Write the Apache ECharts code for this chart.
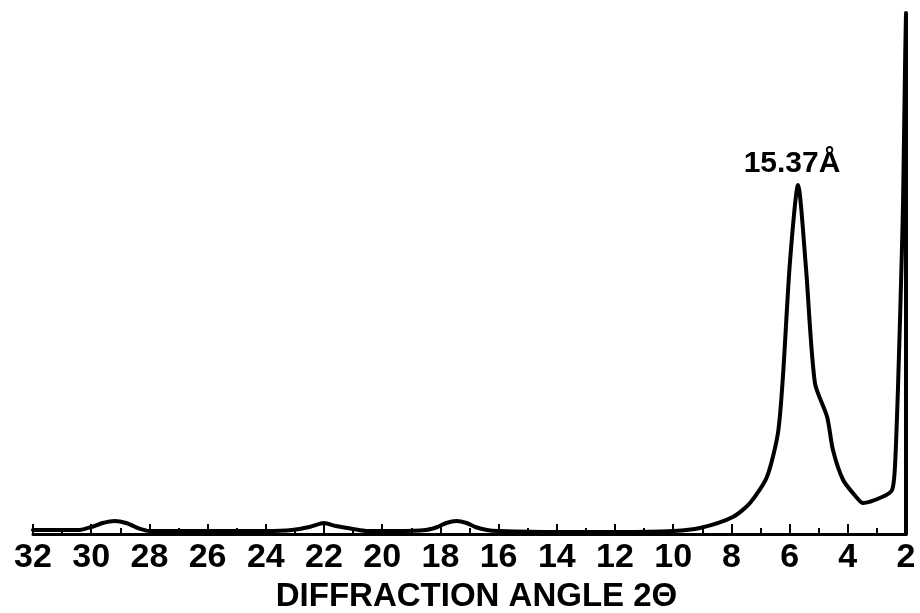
<!DOCTYPE html>
<html>
<head>
<meta charset="utf-8">
<title>Diffraction pattern</title>
<script src="https://cdn.jsdelivr.net/npm/echarts@6/dist/echarts.min.js"></script>
<style>
  html, body { margin: 0; padding: 0; background: #fff; }
  #chart { width: 920px; height: 613px; }
</style>
</head>
<body>
<div id="chart"></div>
<script>
// diffraction angle 2-theta (degrees)
const angles = [
  32.0, 31.0, 30.4, 30.0, 29.6, 29.2, 28.8, 28.4, 28.0, 27.0,
  26.0, 25.0, 24.0, 23.1, 22.5, 22.0, 21.6, 21.0, 20.5, 19.5,
  18.5, 18.1, 17.8, 17.45, 17.1, 16.8, 16.4, 16.0, 14.0, 12.0,
  10.0, 9.08, 7.95, 7.36, 6.78, 6.40, 6.23, 5.99, 5.71, 5.44,
  5.13, 4.71, 4.51, 4.16, 3.68, 3.48, 2.82, 2.48, 2.38, 2.27,
  2.14, 2.10, 2.03, 2.0, 2.0
];
// relative intensity
const intensity = [
  4, 4, 4, 7, 11, 13, 11, 6, 3, 3,
  3, 3, 3, 4, 7, 11, 8, 5, 3, 3,
  4, 7, 11, 13, 11, 7, 4, 3, 2, 2,
  3, 6, 17, 31, 57, 101, 157, 271, 349, 267,
  151, 117, 84, 54, 36, 31, 37, 44, 67, 151,
  284, 334, 474, 521, 0
];
const peakLabel = '15.37Å';
const peakAngle = 5.71;
const peakValue = 349;
const axisTitle = 'DIFFRACTION ANGLE 2Θ';

const font = '"Liberation Sans", Arial, sans-serif';

const points = angles.map((a, i) => [a, intensity[i]]);

const chart = echarts.init(document.getElementById('chart'));

chart.setOption({
  backgroundColor: '#fff',
  animation: false,
  grid: {
    left: 33, right: 14, top: 0, bottom: 79,
    containLabel: false,
    outerBoundsMode: 'none'
  },
  xAxis: {
    type: 'value',
    inverse: true,
    min: 2,
    max: 32,
    interval: 2,
    name: axisTitle,
    nameLocation: 'middle',
    nameGap: 46,
    nameTextStyle: {
      color: '#000',
      fontFamily: font,
      fontWeight: 'bold',
      fontSize: 33,
      padding: [0, 0, 0, 14]
    },
    axisLine: { show: true, lineStyle: { color: '#000', width: 3 } },
    axisTick: { show: true, inside: true, length: 10, lineStyle: { color: '#000', width: 2 } },
    minorTick: { show: true, splitNumber: 2, length: 6, lineStyle: { color: '#000', width: 2 } },
    axisLabel: {
      color: '#000',
      fontFamily: font,
      fontWeight: 'bold',
      fontSize: 34,
      margin: 7,
      showMinLabel: true,
      showMaxLabel: true
    },
    splitLine: { show: false }
  },
  yAxis: {
    type: 'value',
    min: 0,
    max: 534,
    show: false,
    splitLine: { show: false }
  },
  series: [{
    type: 'line',
    data: points,
    smooth: 0.25,
    symbol: 'none',
    clip: false,
    lineStyle: { color: '#000', width: 4, join: 'round', cap: 'round' },
    markPoint: {
      symbol: 'circle',
      symbolSize: 1,
      itemStyle: { color: 'rgba(0,0,0,0)' },
      label: {
        show: true,
        position: 'top',
        distance: 6,
        offset: [-6, 0],
        formatter: peakLabel,
        color: '#000',
        fontFamily: font,
        fontWeight: 'bold',
        fontSize: 30
      },
      data: [{ coord: [peakAngle, peakValue] }]
    }
  }]
});
</script>
</body>
</html>
